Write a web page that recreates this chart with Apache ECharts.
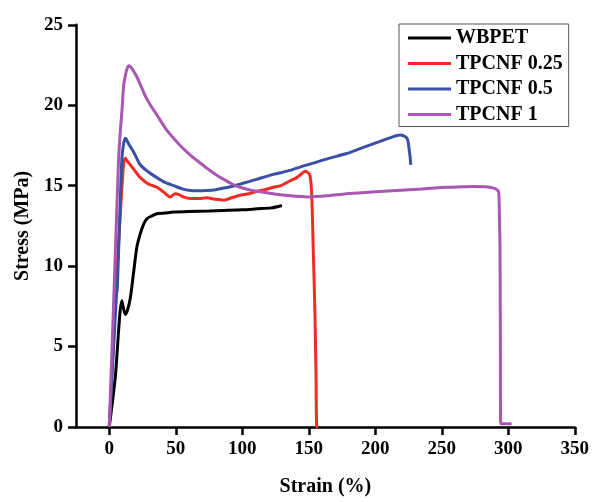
<!DOCTYPE html>
<html>
<head>
<meta charset="utf-8">
<script src="https://cdn.jsdelivr.net/npm/echarts@6/dist/echarts.min.js"></script>
<style>html,body{margin:0;padding:0;background:#fff;}#c{width:592px;height:502px;}</style>
</head>
<body>
<div id="c"></div>
<script>
const seriesNames = ['WBPET', 'TPCNF 0.25', 'TPCNF 0.5', 'TPCNF 1'];
const xTickValues = [0, 50, 100, 150, 200, 250, 300, 350];
const yTickValues = [0, 5, 10, 15, 20, 25];

const wbpet = [
  [0, 0], [4.5, 3.06], [9.5, 7.85], [12.0, 7.0], [13.5, 7.2], [15.8, 8.0], [18.3, 9.6],
  [20.8, 11.2], [23.3, 12.0], [25.8, 12.6], [28.3, 12.95], [31.5, 13.1], [35.8, 13.25],
  [42, 13.3], [48.4, 13.36], [60, 13.4], [75, 13.43], [86, 13.46], [100, 13.5],
  [111, 13.56], [122, 13.62], [129.8, 13.77]
];
const tpcnf025 = [
  [0, 0], [5.0, 8.5], [8.0, 12.8], [10.8, 16.4], [12.0, 16.7], [13.8, 16.5], [15.8, 16.3],
  [19.5, 15.9], [23.3, 15.5], [29.5, 15.1], [35.8, 14.9], [41, 14.6], [45.9, 14.3],
  [49.6, 14.5], [52.5, 14.45], [55.8, 14.3], [60.9, 14.2], [67, 14.2], [73.2, 14.25],
  [80, 14.15], [86, 14.1], [92, 14.25], [98.3, 14.4], [105, 14.5], [111, 14.65],
  [117, 14.75], [123.3, 14.9], [129, 15.0], [135.9, 15.3], [141, 15.5], [145.5, 15.8],
  [147.4, 15.9], [149.5, 15.8], [151, 15.6], [152.2, 14.5], [153.4, 11.0], [154.7, 6.9],
  [155.5, 3.0], [156, 0], [157, 0]
];
const tpcnf05 = [
  [0, 0], [5.5, 8.3], [6.0, 8.5], [7.8, 12.8], [9.5, 16.7], [11.0, 17.7], [12.3, 17.95],
  [14.5, 17.6], [18.3, 17.1], [23.3, 16.3], [29.5, 15.85], [35.8, 15.5], [42, 15.2],
  [48.4, 15.0], [55, 14.8], [60.9, 14.7], [67, 14.68], [73.2, 14.7], [80, 14.75],
  [86, 14.85], [92, 14.95], [98.3, 15.1], [105, 15.25], [111, 15.4], [117, 15.55],
  [123.3, 15.7], [128.6, 15.8], [135.9, 15.95], [145, 16.2], [153.4, 16.4], [165, 16.7],
  [178.5, 17.0], [190, 17.35], [203.6, 17.75], [212, 18.0], [218.6, 18.15], [221.5, 18.1],
  [223.9, 17.95], [225.0, 17.6], [225.4, 17.3], [226.2, 16.8], [226.7, 16.3]
];
const tpcnf1 = [
  [0, 0], [3.2, 7.5], [7.0, 16.6], [8.5, 18.6], [9.5, 19.6], [10.8, 21.2], [12.0, 21.8],
  [13.5, 22.3], [15.0, 22.45], [16.5, 22.35], [18.5, 22.1], [20.5, 21.8], [23.3, 21.3],
  [27, 20.6], [31, 20.0], [35.8, 19.4], [42, 18.6], [48.4, 17.95], [54.5, 17.4],
  [60.9, 16.9], [67, 16.5], [73.2, 16.1], [80, 15.7], [86, 15.4], [92, 15.12],
  [98.3, 14.9], [105, 14.75], [111, 14.65], [117, 14.57], [123.3, 14.5], [130, 14.42],
  [140, 14.35], [151, 14.3], [165, 14.38], [178.5, 14.5], [197, 14.6], [216.2, 14.7],
  [235, 14.8], [253.8, 14.9], [265, 14.93], [273.9, 14.95], [283, 14.93], [289, 14.85],
  [291.5, 14.75], [292.8, 14.6], [293.4, 13.0], [293.8, 11.0], [294.1, 5.0], [294.3, 0.2],
  [302.5, 0.2]
];

const seriesData = [wbpet, tpcnf025, tpcnf05, tpcnf1];
const colors = ['#000000', '#ef2b26', '#3a50a6', '#a957b2'];

const font = 'Liberation Serif';
const chart = echarts.init(document.getElementById('c'));
chart.setOption({
  backgroundColor: '#ffffff',
  animation: false,
  grid: { left: 76, right: 17, top: 24.8, bottom: 68.7 },
  legend: {
    orient: 'vertical',
    left: 399,
    top: 24,
    padding: [4, 6, 2, 9],
    itemGap: 5.5,
    itemWidth: 43,
    itemHeight: 3,
    icon: 'rect',
    borderColor: '#555',
    borderWidth: 1,
    data: seriesNames,
    textStyle: { fontFamily: font, fontWeight: 'bold', fontSize: 20, color: '#000', lineHeight: 20 }
  },
  xAxis: {
    type: 'value',
    min: -25,
    max: 350,
    name: 'Strain (%)',
    nameLocation: 'middle',
    nameGap: 50,
    nameTextStyle: { fontFamily: font, fontWeight: 'bold', fontSize: 20, color: '#000' },
    axisLine: { onZero: false, lineStyle: { color: '#000', width: 2.5 } },
    axisTick: { show: true, length: 8, lineStyle: { color: '#000', width: 2.5 }, customValues: xTickValues },
    axisLabel: { customValues: xTickValues, margin: 13, fontFamily: font, fontWeight: 'bold', fontSize: 19, color: '#000' },
    splitLine: { show: false }
  },
  yAxis: {
    type: 'value',
    min: 0,
    max: 25,
    interval: 5,
    name: 'Stress (MPa)',
    nameLocation: 'middle',
    nameGap: 42,
    nameTextStyle: { fontFamily: font, fontWeight: 'bold', fontSize: 20, color: '#000' },
    axisLine: { show: true, onZero: false, lineStyle: { color: '#000', width: 2.5 } },
    axisTick: { show: true, length: 8, lineStyle: { color: '#000', width: 2.5 }, customValues: yTickValues },
    axisLabel: { customValues: yTickValues, margin: 13, fontFamily: font, fontWeight: 'bold', fontSize: 19, color: '#000' },
    splitLine: { show: false }
  },
  series: seriesNames.map((n, i) => ({
    name: n,
    type: 'line',
    data: seriesData[i],
    showSymbol: false,
    symbol: 'none',
    smooth: 0.25,
    color: colors[i],
    lineStyle: { color: colors[i], width: 3 }
  }))
});
</script>
</body>
</html>
